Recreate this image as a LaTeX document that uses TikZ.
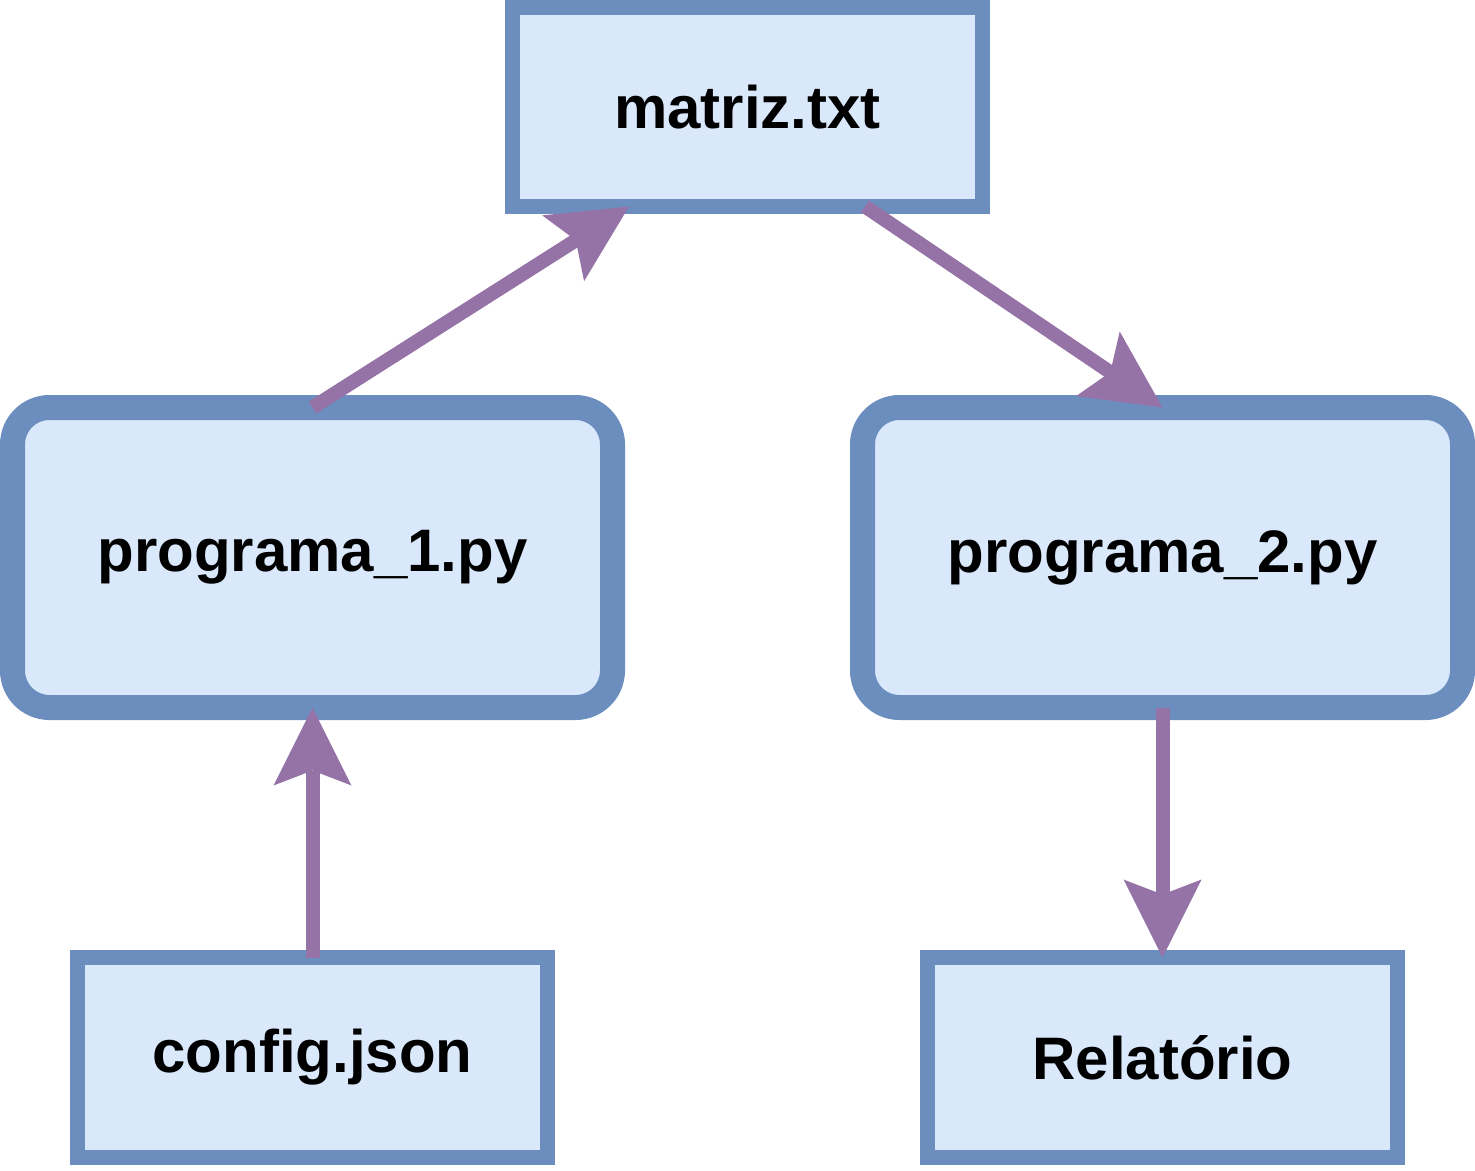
\documentclass[tikz,border=0pt]{standalone}
\usepackage{fontspec}
\setmainfont{Liberation Sans}
\usetikzlibrary{arrows.meta,calc}
\definecolor{boxfill}{HTML}{DAE8FC}
\definecolor{boxline}{HTML}{6C8EBF}
\definecolor{arrowcol}{HTML}{9673A6}
\begin{document}
\begin{tikzpicture}[x=1pt,y=-1pt,
  filebox/.style={draw=boxline,fill=boxfill,line width=15pt,outer sep=0pt,inner sep=0pt,
    minimum width=470pt,minimum height=200pt,font=\fontsize{60}{72}\selectfont\bfseries},
  progbox/.style={draw=boxline,fill=boxfill,line width=25pt,outer sep=0pt,inner sep=0pt,
    rounded corners=37pt,minimum width=600pt,minimum height=300pt,font=\fontsize{60}{72}\selectfont\bfseries},
  flow/.style={draw=arrowcol,line width=14pt,
    -{Stealth[length=78pt,width=78pt,inset=15pt,line width=0pt]}}]
\useasboundingbox (0,0) rectangle (1475,1170);
\node[filebox,minimum height=199pt] (m) at (747.5,107) {matriz.txt};
\node[progbox] (p1) at (312.5,557.5) {programa\_1.py};
\node[progbox] (p2) at (1162.5,557.5) {programa\_2.py};
\node[filebox] (cfg) at (312.5,1057.5) {config.json};
\node[filebox] (rel) at (1162.5,1057.5) {Relatório};
\draw[flow] (p1.north) -- ($(m.south west)+(116.5,0)$);
\draw[flow] ($(m.south west)+(352.5,0)$) -- (p2.north);
\draw[flow] (cfg.north) -- (p1.south);
\draw[flow] (p2.south) -- (rel.north);
\end{tikzpicture}
\end{document}
